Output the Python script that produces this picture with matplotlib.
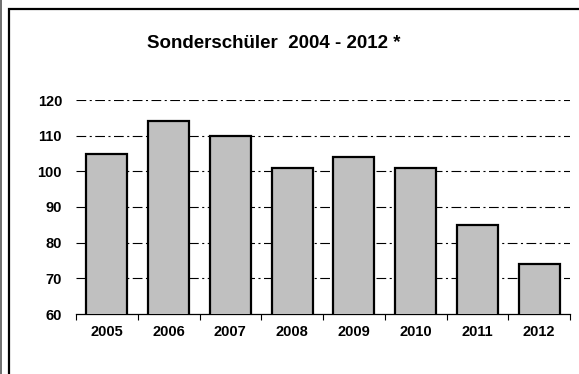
import matplotlib
matplotlib.use("Agg")
import matplotlib.pyplot as plt
from matplotlib.patches import Rectangle
from matplotlib.lines import Line2D

years = ["2005", "2006", "2007", "2008", "2009", "2010", "2011", "2012"]
values = [105, 114, 110, 101, 104, 101, 85, 74]
yticks = [60, 70, 80, 90, 100, 110, 120]
title = "Sonderschüler  2004 - 2012 *"

plt.rcParams['font.family'] = ['Liberation Sans', 'DejaVu Sans']
plt.rcParams['lines.scale_dashes'] = False

W, H = 579, 374
fig = plt.figure(figsize=(W / 100, H / 100), dpi=100)
fig.patch.set_facecolor("white")

# outer frame
fig.add_artist(Rectangle((9 / W, -0.1), 1.2, (H - 9) / H + 0.1, transform=fig.transFigure,
                         fill=False, edgecolor="black", linewidth=1.6))
fig.add_artist(Line2D([0.5 / W, 0.5 / W], [0, 1], transform=fig.transFigure,
                      color="#555555", linewidth=1.2))

ax = fig.add_axes([76 / W, 60 / H, 494 / W, 214 / H])
x = list(range(len(years)))
ax.bar(x, values, width=0.66, color="#C0C0C0", edgecolor="black", linewidth=1.6, zorder=3)
ax.set_xlim(-0.5, len(years) - 0.5)
ax.set_ylim(60, 120)
ax.set_yticks(yticks)
ax.set_yticklabels([str(v) for v in yticks], fontsize=10.5, fontweight="bold")
ax.set_xticks(x)
ax.set_xticklabels(years, fontsize=10.5, fontweight="bold")
ax.set_xticks([i - 0.5 for i in range(len(years) + 1)], minor=True)
ax.tick_params(axis="x", which="major", length=0, pad=8)
ax.tick_params(axis="x", which="minor", length=4, width=0.8, direction="out")
ax.tick_params(axis="y", length=0, pad=10)
for s in ["top", "right", "left"]:
    ax.spines[s].set_visible(False)
ax.spines["bottom"].set_linewidth(0.9)
for v in yticks[1:]:
    ax.axhline(v, color="black", linewidth=0.8, linestyle=(0, (7, 2.5, 1.5, 2.5)), zorder=1)

fig.text(274 / W, 1 - 44 / H, title, ha="center", va="center", fontsize=13.5, fontweight="bold")

fig.savefig("out.png", dpi=100)
